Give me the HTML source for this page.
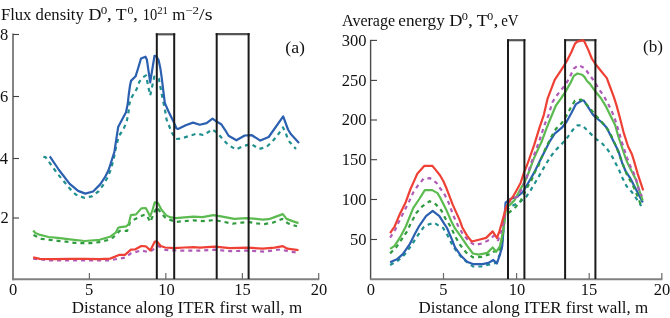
<!DOCTYPE html>
<html><head><meta charset="utf-8"><style>
html,body{margin:0;padding:0;background:#fff;}
body{width:670px;height:318px;overflow:hidden;font-family:"Liberation Serif",serif;}
svg{display:block;will-change:transform;}
</style></head><body>
<svg width="670" height="318" viewBox="0 0 670 318">
<g font-family="Liberation Serif" fill="#111" >
<text transform="translate(0.90,19.70) scale(1.0412,1)" font-size="16.0">Flux density</text>
<text transform="translate(88.56,19.70) scale(1.1250,1)" font-size="16.0">D</text>
<text transform="translate(100.78,13.70) scale(1.2014,1)" font-size="10.9">0</text>
<text transform="translate(106.87,19.70) scale(1.2917,1)" font-size="16.0">,</text>
<text transform="translate(115.85,19.70) scale(1.1075,1)" font-size="16.0">T</text>
<text transform="translate(127.42,13.70) scale(1.0922,1)" font-size="10.9">0</text>
<text transform="translate(133.10,19.70) scale(1.2500,1)" font-size="16.0">,</text>
<text transform="translate(142.80,19.70) scale(0.8519,1)" font-size="17">10</text>
<text transform="translate(157.16,13.50) scale(0.9722,1)" font-size="11.200000000000001">21</text>
<text transform="translate(172.26,19.70) scale(1.0557,1)" font-size="16.0">m</text>
<text transform="translate(185.15,13.90) scale(1.1946,1)" font-size="10.9">−2</text>
<text transform="translate(199.10,19.70) scale(1.2599,1)" font-size="16.0">/s</text>
<text x="342.04" y="25.50" font-size="16.0">Average</text>
<text transform="translate(398.31,25.50) scale(1.0738,1)" font-size="16.0">energy</text>
<text transform="translate(449.25,25.50) scale(1.1442,1)" font-size="16.0">D</text>
<text transform="translate(461.80,19.50) scale(1.1359,1)" font-size="10.9">0</text>
<text transform="translate(468.10,25.50) scale(1.2500,1)" font-size="16.0">,</text>
<text transform="translate(476.64,25.50) scale(1.1404,1)" font-size="16.0">T</text>
<text transform="translate(487.32,19.50) scale(1.0922,1)" font-size="10.9">0</text>
<text transform="translate(493.40,25.50) scale(1.2500,1)" font-size="16.0">,</text>
<text transform="translate(501.20,25.50) scale(0.9319,1)" font-size="16.0">eV</text>
<text x="0.11" y="39.70" font-size="16.5">8</text>
<text x="-0.05" y="101.70" font-size="16.5">6</text>
<text x="-0.22" y="163.70" font-size="16.5">4</text>
<text x="0.44" y="223.20" font-size="16.5">2</text>
<text x="341.71" y="45.60" font-size="16.5">300</text>
<text x="341.71" y="85.60" font-size="16.5">250</text>
<text x="341.71" y="125.20" font-size="16.5">200</text>
<text x="341.71" y="164.90" font-size="16.5">150</text>
<text x="341.71" y="204.70" font-size="16.5">100</text>
<text x="349.96" y="244.70" font-size="16.5">50</text>
<text x="9.07" y="294.90" font-size="16.5">0</text>
<text x="85.11" y="294.90" font-size="16.5">5</text>
<text x="158.34" y="294.90" font-size="16.5">10</text>
<text x="234.24" y="294.90" font-size="16.5">15</text>
<text x="310.75" y="294.90" font-size="16.5">20</text>
<text x="366.78" y="294.90" font-size="16.5">0</text>
<text x="439.21" y="294.90" font-size="16.5">5</text>
<text x="508.64" y="294.90" font-size="16.5">10</text>
<text x="580.84" y="294.90" font-size="16.5">15</text>
<text x="653.75" y="294.90" font-size="16.5">20</text>
<text transform="translate(71.79,312.80) scale(1.0309,1)" font-size="16.5">Distance along ITER first wall, m</text>
<text transform="translate(418.49,312.80) scale(1.0286,1)" font-size="16.5">Distance along ITER first wall, m</text>
<text transform="translate(285.19,52.50) scale(1.1027,1)" font-size="16.2">(a)</text>
<text transform="translate(643.11,52.30) scale(1.0574,1)" font-size="16.2">(b)</text>
</g>
<line x1="13" y1="33.6" x2="13" y2="280.2" stroke="#848484" stroke-width="2"/>
<line x1="12" y1="279.2" x2="319.3" y2="279.2" stroke="#808080" stroke-width="2"/>
<line x1="13" y1="34.5" x2="19" y2="34.5" stroke="#404040" stroke-width="1.1"/>
<line x1="13" y1="96.5" x2="19" y2="96.5" stroke="#404040" stroke-width="1.1"/>
<line x1="13" y1="158.5" x2="19" y2="158.5" stroke="#404040" stroke-width="1.1"/>
<line x1="13" y1="218" x2="19" y2="218" stroke="#404040" stroke-width="1.1"/>
<line x1="89.4" y1="273" x2="89.4" y2="279" stroke="#6a6a6a" stroke-width="1.2"/>
<line x1="165.8" y1="273" x2="165.8" y2="279" stroke="#6a6a6a" stroke-width="1.2"/>
<line x1="242.4" y1="273" x2="242.4" y2="279" stroke="#6a6a6a" stroke-width="1.2"/>
<line x1="318.7" y1="273" x2="318.7" y2="279" stroke="#6a6a6a" stroke-width="1.2"/>
<line x1="370.6" y1="39.8" x2="370.6" y2="279" stroke="#4a4a4a" stroke-width="1.4"/>
<line x1="369.9" y1="279.2" x2="662.4" y2="279.2" stroke="#808080" stroke-width="2"/>
<line x1="370.7" y1="40.4" x2="377" y2="40.4" stroke="#404040" stroke-width="1.1"/>
<line x1="370.7" y1="80.4" x2="377" y2="80.4" stroke="#404040" stroke-width="1.1"/>
<line x1="370.7" y1="120" x2="377" y2="120" stroke="#404040" stroke-width="1.1"/>
<line x1="370.7" y1="159.7" x2="377" y2="159.7" stroke="#404040" stroke-width="1.1"/>
<line x1="370.7" y1="199.5" x2="377" y2="199.5" stroke="#404040" stroke-width="1.1"/>
<line x1="370.7" y1="239.5" x2="377" y2="239.5" stroke="#404040" stroke-width="1.1"/>
<line x1="443.5" y1="273" x2="443.5" y2="279" stroke="#6a6a6a" stroke-width="1.2"/>
<line x1="516.6" y1="273" x2="516.6" y2="279" stroke="#6a6a6a" stroke-width="1.2"/>
<line x1="589.2" y1="273" x2="589.2" y2="279" stroke="#6a6a6a" stroke-width="1.2"/>
<line x1="661.8" y1="273" x2="661.8" y2="279" stroke="#6a6a6a" stroke-width="1.2"/>
<line x1="155.8" y1="34.3" x2="175.2" y2="34.3" stroke="#555" stroke-width="2.2"/>
<line x1="215.7" y1="34.1" x2="249.6" y2="34.1" stroke="#555" stroke-width="2.2"/>
<line x1="507" y1="40.2" x2="525.4" y2="40.2" stroke="#555" stroke-width="2.2"/>
<line x1="564.1" y1="40.2" x2="596.4" y2="40.2" stroke="#555" stroke-width="2.2"/>
<polyline points="33.2,258.6 50.4,260.5 70.0,260.4 90.0,260.4 110.0,260.3 124.9,257.6 130.9,253.4 141.3,250.4 147.5,251.9 151.6,250.5 158.5,246.0 165.5,250.0 174.2,250.4 184.6,250.7 200.0,250.6 214.9,249.7 229.9,251.2 247.8,250.6 264.2,251.6 280.6,249.4 289.6,251.6 297.8,252.7" fill="none" stroke="#b05ab8" stroke-width="2.2" stroke-linejoin="round" stroke-dasharray="4 4"/>
<polyline points="33.2,257.4 39.9,258.9 54.9,259.2 69.8,258.9 84.7,258.9 99.6,259.2 110.1,258.6 115.3,256.6 119.0,254.9 124.9,254.9 130.9,249.7 135.4,249.3 141.3,246.0 145.8,246.3 150.3,250.4 154.8,241.5 157.0,241.5 160.7,246.0 165.2,247.5 174.2,248.2 184.6,247.5 193.6,247.2 200.0,247.6 214.9,246.7 229.9,248.2 247.8,247.6 262.7,248.7 274.6,247.6 282.8,246.1 287.3,248.7 298.5,250.1" fill="none" stroke="#ee4035" stroke-width="2.2" stroke-linejoin="round"/>
<polyline points="33.5,235.0 41.5,238.8 50.0,239.8 58.0,240.8 66.0,241.7 74.3,242.8 82.5,243.2 90.7,243.2 98.9,242.2 107.1,240.2 113.0,237.5 119.7,230.8 127.2,230.8 130.1,221.9 135.4,218.9 143.6,215.1 146.6,215.3 150.3,222.0 154.0,212.9 157.0,207.0 160.7,212.9 165.2,217.4 169.7,219.6 175.7,221.9 184.6,221.1 193.6,220.4 202.5,221.1 214.9,220.1 223.9,221.9 232.8,223.7 241.8,222.6 249.3,222.2 256.7,223.4 264.2,224.1 273.1,222.6 282.1,218.9 288.1,223.4 297.0,226.3" fill="none" stroke="#2f9a3e" stroke-width="2.2" stroke-linejoin="round" stroke-dasharray="4 4"/>
<polyline points="33.2,230.6 35.4,233.1 39.2,234.6 48.6,237.0 58.0,237.9 69.8,239.3 84.7,241.0 99.6,239.8 110.0,236.8 116.0,232.3 118.2,227.8 120.4,227.1 126.4,226.3 128.7,224.1 130.9,215.1 136.1,214.4 141.3,208.4 145.8,208.0 150.2,216.4 152.5,210.0 154.8,202.3 157.8,202.8 161.5,209.8 166.0,215.1 169.7,217.1 175.7,218.1 184.6,217.4 193.6,216.6 202.5,217.1 213.4,215.1 222.4,216.6 234.3,218.9 246.3,218.1 253.7,218.6 262.7,219.6 268.7,219.2 274.6,217.1 282.8,214.1 286.6,218.9 292.5,221.1 298.5,223.1" fill="none" stroke="#5cbb50" stroke-width="2.2" stroke-linejoin="round"/>
<polyline points="43.4,156.8 45.5,157.2 54.8,170.0 58.4,174.8 64.4,182.0 69.7,188.5 75.7,194.5 84.1,197.8 91.9,196.3 98.4,191.5 103.2,185.0 107.4,177.8 110.4,170.6 113.5,160.0 116.4,145.2 119.0,135.7 123.4,129.6 126.8,121.0 128.5,112.3 129.4,103.7 132.0,96.7 136.7,89.0 139.4,81.6 142.9,77.3 146.0,75.4 150.2,95.5 154.3,76.6 156.5,76.6 158.8,78.5 162.0,95.5 164.8,108.9 166.6,119.7 172.0,133.0 176.0,139.0 181.5,138.5 189.0,136.0 197.0,133.5 203.0,135.0 208.0,132.3 212.0,129.3 217.5,133.0 222.6,139.0 228.0,144.6 235.8,149.5 243.5,145.9 251.3,144.1 259.1,148.9 266.3,147.1 272.2,141.7 277.6,135.2 283.0,127.4 285.4,132.2 288.4,140.6 296.0,149.0" fill="none" stroke="#20908f" stroke-width="2.2" stroke-linejoin="round" stroke-dasharray="4 4"/>
<polyline points="49.8,156.4 59.0,170.0 69.7,183.8 78.1,190.9 85.3,193.6 93.1,191.5 100.2,184.4 105.0,177.2 108.6,170.0 110.6,163.9 114.4,151.9 116.4,138.3 118.2,127.0 120.0,123.5 126.0,112.3 127.7,104.0 128.7,95.0 130.1,85.0 131.0,80.9 135.6,76.3 138.2,68.0 141.0,58.5 145.5,56.7 146.9,59.8 150.2,82.3 154.5,55.8 156.3,56.3 158.5,59.8 160.3,67.9 161.6,76.9 164.8,102.9 168.4,111.3 173.2,120.9 176.5,128.5 178.0,129.0 185.7,125.2 193.0,122.6 199.8,124.7 206.6,123.1 212.5,118.6 217.0,121.8 221.2,124.2 225.0,129.8 228.6,135.8 236.4,140.3 244.7,135.5 251.9,135.2 260.3,140.6 268.7,137.0 283.2,116.4 288.0,129.5 291.0,134.3 299.0,143.0" fill="none" stroke="#2b60b0" stroke-width="2.2" stroke-linejoin="round"/>
<polyline points="390.1,265.0 397.6,260.8 404.3,254.9 411.0,245.9 417.8,235.4 423.7,227.2 429.0,224.3 434.2,222.8 440.1,226.6 443.1,228.0 447.6,235.4 452.8,245.9 458.1,253.4 463.3,259.3 468.5,263.1 472.9,266.5 481.3,266.5 488.5,264.7 495.7,262.9 501.1,252.2 505.0,212.0 510.0,207.0 519.2,202.4 526.0,197.1 530.7,190.1 534.3,184.1 538.5,177.0 543.3,168.6 546.9,162.5 551.6,155.3 556.4,149.4 562.4,143.4 566.6,138.5 572.6,130.1 577.4,125.3 582.2,125.3 587.0,130.1 591.8,134.9 595.8,138.8 601.7,142.9 607.1,148.9 611.3,154.9 615.7,163.4 619.3,170.6 622.3,177.7 626.5,186.1 631.9,192.1 641.3,206.0" fill="none" stroke="#20908f" stroke-width="2.2" stroke-linejoin="round" stroke-dasharray="4 4"/>
<polyline points="390.1,262.3 396.9,259.3 402.8,254.1 409.6,244.4 414.8,234.0 419.3,225.8 426.0,216.1 432.7,210.9 439.4,216.1 444.6,224.3 447.0,228.0 452.1,239.9 455.0,247.4 461.0,255.8 467.0,261.7 472.9,264.1 482.5,264.1 488.5,262.9 493.3,260.0 496.9,263.5 499.9,254.6 502.2,246.2 505.6,202.6 509.3,199.6 513.1,198.0 517.6,196.5 522.9,192.0 528.9,181.7 533.7,173.4 539.7,161.3 544.5,151.7 549.3,142.2 554.7,133.7 561.9,127.7 566.6,121.7 571.4,113.0 576.0,104.1 582.4,100.3 584.0,100.8 587.7,106.3 592.9,114.6 596.0,117.7 602.0,122.5 606.5,127.4 610.1,134.6 614.3,142.9 618.5,151.3 622.3,163.4 625.9,171.7 630.7,178.9 634.9,187.3 642.8,202.5" fill="none" stroke="#2b60b0" stroke-width="2.2" stroke-linejoin="round"/>
<polyline points="390.1,253.4 396.1,247.4 401.3,239.9 407.3,231.0 410.3,224.3 416.3,213.1 422.2,206.4 429.7,201.2 435.7,204.2 441.6,210.9 446.1,219.9 450.6,226.5 455.0,236.0 459.8,244.5 466.0,252.3 473.0,257.3 481.5,257.0 489.7,254.3 494.5,251.1 498.7,252.3 501.1,243.9 502.8,234.4 505.0,215.0 508.9,212.6 515.2,207.5 520.4,201.5 527.7,186.5 531.3,180.6 534.9,172.0 538.5,165.6 540.9,158.9 545.7,148.2 551.6,136.2 555.9,128.9 561.9,122.9 567.8,113.4 571.4,106.2 575.0,100.7 581.0,99.5 587.0,104.9 591.8,110.6 597.2,117.1 603.2,123.7 608.9,131.0 612.5,138.2 616.1,146.5 619.7,156.1 623.5,165.8 627.1,175.3 631.3,182.5 634.9,189.7 641.3,206.0" fill="none" stroke="#2f9a3e" stroke-width="2.2" stroke-linejoin="round" stroke-dasharray="4 4"/>
<polyline points="390.1,248.9 394.6,245.9 399.9,237.7 405.8,226.5 413.3,207.9 419.3,199.0 424.8,190.1 432.2,190.1 437.5,193.1 440.1,197.5 446.1,209.4 451.3,221.3 455.0,228.4 461.0,236.7 467.0,245.7 472.9,253.5 478.9,254.7 487.3,252.9 492.7,247.5 496.3,251.7 499.9,246.3 502.2,235.6 504.0,226.0 506.0,208.0 510.1,204.6 514.6,200.1 520.0,190.0 525.3,180.6 528.9,172.0 533.7,158.9 538.5,148.2 541.5,142.1 546.3,128.9 551.1,117.0 555.9,105.5 560.7,98.9 565.5,91.7 570.2,83.4 573.8,75.9 577.4,73.5 582.2,74.7 584.6,77.1 587.0,81.0 590.0,83.9 596.0,92.3 600.8,98.0 605.6,105.8 610.3,115.3 615.1,124.9 618.5,137.0 622.1,147.7 625.7,158.5 628.3,164.6 631.9,171.7 636.1,180.1 639.0,189.7 642.8,200.5" fill="none" stroke="#5cbb50" stroke-width="2.2" stroke-linejoin="round"/>
<polyline points="390.1,237.7 395.4,229.5 397.6,224.3 403.6,212.4 409.6,200.4 413.5,192.0 417.3,186.4 423.5,178.7 430.0,178.2 436.5,182.8 440.1,188.3 443.8,193.0 448.3,201.9 453.3,215.4 458.0,225.8 463.4,235.0 469.4,241.5 474.7,245.1 482.5,243.3 489.7,239.7 493.9,235.6 498.1,240.3 501.7,229.6 504.0,222.4 506.0,206.0 510.0,201.0 517.7,196.5 521.4,189.5 526.5,178.2 530.1,166.2 533.1,157.7 536.7,148.2 540.9,136.2 543.9,126.5 548.7,114.6 552.3,102.5 555.9,96.5 560.7,90.6 565.5,84.6 569.0,78.6 573.8,68.7 578.6,65.1 584.6,68.1 589.4,74.7 594.8,82.1 599.0,89.3 603.8,95.9 607.9,103.4 611.5,110.6 614.5,117.7 617.5,127.3 619.7,134.6 622.1,142.9 624.5,150.1 626.9,157.3 630.1,165.8 633.7,172.9 636.7,181.3 639.0,189.7 641.8,196.2" fill="none" stroke="#b05ab8" stroke-width="2.2" stroke-linejoin="round" stroke-dasharray="4 4"/>
<polyline points="390.1,233.2 394.6,226.5 399.9,213.9 405.8,201.9 410.5,189.0 413.7,181.9 417.3,173.7 424.2,165.9 432.4,165.9 436.5,170.9 440.1,175.5 443.3,181.0 446.5,188.3 452.8,204.9 459.6,219.9 462.2,227.2 467.0,235.6 471.7,241.5 478.9,239.7 486.1,237.9 492.7,231.4 496.9,238.0 499.4,231.4 502.6,220.1 505.7,208.8 508.6,202.1 513.1,196.5 516.5,190.5 520.6,182.9 524.1,172.2 527.1,165.0 530.1,156.5 534.3,144.6 539.1,128.9 543.9,114.6 547.5,98.9 551.1,89.4 554.7,79.8 561.3,69.9 566.6,61.5 571.4,52.0 575.0,43.6 577.2,41.6 582.5,40.4 584.0,40.8 588.2,49.6 591.8,58.5 596.0,64.8 600.8,70.8 606.7,77.9 610.3,87.5 613.9,97.1 616.3,104.6 619.9,117.7 623.5,132.1 628.1,146.5 631.7,153.7 634.0,160.9 637.8,174.1 643.2,190.3" fill="none" stroke="#ee4035" stroke-width="2.2" stroke-linejoin="round"/>
<line x1="156.8" y1="33.3" x2="156.8" y2="279" stroke="#1a1a1a" stroke-width="2.0"/><line x1="174.2" y1="33.3" x2="174.2" y2="279" stroke="#1a1a1a" stroke-width="2.0"/>
<line x1="216.7" y1="33.1" x2="216.7" y2="279" stroke="#1a1a1a" stroke-width="2.0"/><line x1="248.6" y1="33.1" x2="248.6" y2="279" stroke="#1a1a1a" stroke-width="2.0"/>
<line x1="508" y1="39.2" x2="508" y2="279" stroke="#1a1a1a" stroke-width="2.0"/><line x1="524.4" y1="39.2" x2="524.4" y2="279" stroke="#1a1a1a" stroke-width="2.0"/>
<line x1="565.1" y1="39.2" x2="565.1" y2="279" stroke="#1a1a1a" stroke-width="2.0"/><line x1="595.4" y1="39.2" x2="595.4" y2="279" stroke="#1a1a1a" stroke-width="2.0"/>
</svg>
</body></html>
